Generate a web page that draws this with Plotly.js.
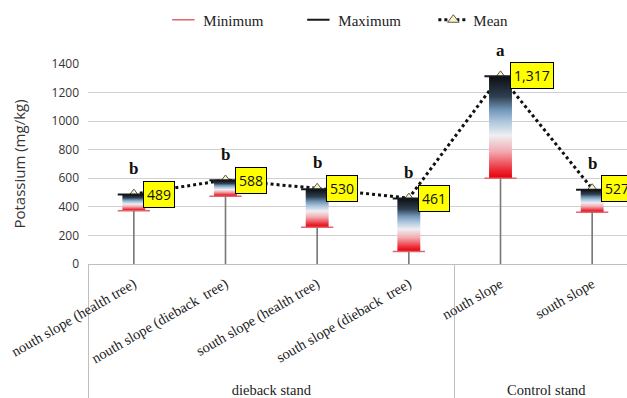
<!DOCTYPE html>
<html>
<head>
<meta charset="utf-8">
<script src="https://cdn.plot.ly/plotly-3.0.1.min.js"></script>
<style>
  html, body { margin: 0; padding: 0; overflow: hidden; background: #fff; }
  #chart { width: 640px; height: 398px; }
</style>
</head>
<body>
<div id="chart"></div>
<script>
// Potassium (mg/kg) by stand and slope position
const stands = ['dieback stand', 'dieback stand', 'dieback stand', 'dieback stand', 'Control stand', 'Control stand'];
const sites = ['nouth slope (health tree)', 'nouth slope (dieback  tree)', 'south slope (health tree)',
               'south slope (dieback  tree)', 'nouth slope', 'south slope'];
const minimum = [372, 475, 258, 88, 601, 362];
const maximum = [486, 586, 524, 458, 1315, 520];
const mean = [489, 588, 530, 461, 1317, 527];
const letters = ['b', 'b', 'b', 'b', 'a', 'b'];

const idx = sites.map((_, i) => i);
const halfW = 0.125;

// red -> white -> steel blue -> near black, bottom to top of each range box
const boxScale = [
  [0, '#e6000a'], [0.08, '#ec2a34'], [0.26, '#f2aab0'], [0.42, '#efeff1'],
  [0.56, '#aac4db'], [0.67, '#7196b7'], [0.8, '#2f3f50'], [1, '#0b0e13']
];

const traces = [];

// mean line sits underneath the boxes
traces.push({
  type: 'scatter', x: idx, y: mean, name: 'Mean', mode: 'lines+markers', legendrank: 3,
  line: { color: '#111', width: 3, dash: 'dot' },
  marker: { symbol: 'triangle-up', size: 10, color: '#fbf3c0', line: { color: '#555', width: 1 } },
  hoverinfo: 'y'
});

// one gradient box per site, from minimum up to maximum
idx.forEach(i => {
  traces.push({
    type: 'scatter', mode: 'lines', fill: 'toself', showlegend: false, hoverinfo: 'skip',
    x: [i - halfW, i + halfW, i + halfW, i - halfW, i - halfW],
    y: [minimum[i], minimum[i], maximum[i], maximum[i], minimum[i]],
    line: { width: 0 },
    fillgradient: { type: 'vertical', colorscale: boxScale }
  });
});

traces.push({
  type: 'scatter', x: idx, y: minimum, name: 'Minimum', mode: 'markers', legendrank: 1,
  marker: { symbol: 'line-ew', size: 23, line: { color: '#e2646c', width: 1.5 } }
});
traces.push({
  type: 'scatter', x: idx, y: maximum, name: 'Maximum', mode: 'markers', legendrank: 2,
  marker: { symbol: 'line-ew', size: 23, line: { color: '#15191f', width: 2 } }
});

// thin stems from the axis up to each minimum, on the grouped category axis
traces.push({
  type: 'bar', x: [stands, sites], y: minimum, xaxis: 'x2', width: 0.018,
  marker: { color: '#7a7a7a' }, showlegend: false, hoverinfo: 'skip'
});

const annotations = [];
idx.forEach(i => {
  annotations.push({
    x: i, y: mean[i], xref: 'x', yref: 'y', xanchor: 'left', yanchor: 'middle', xshift: 9,
    text: mean[i].toLocaleString('en-US'), showarrow: false,
    bgcolor: '#ffff00', bordercolor: '#000', borderwidth: 1, borderpad: 3,
    font: { family: 'Open Sans', size: 14, color: '#111' }
  });
  annotations.push({
    x: i, y: mean[i], xref: 'x', yref: 'y', xanchor: 'center', yanchor: 'bottom', yshift: 14,
    text: '<b>' + letters[i] + '</b>', showarrow: false,
    font: { family: 'Liberation Serif', size: 17, color: '#111' }
  });
});

const layout = {
  width: 640, height: 398,
  margin: { l: 88, r: 2, t: 64, b: 134 },
  paper_bgcolor: '#fff', plot_bgcolor: '#fff',
  showlegend: true,
  legend: {
    orientation: 'h', x: 0.137, xanchor: 'left', y: 1.22, yanchor: 'middle',
    entrywidth: 90, entrywidthmode: 'pixels',
    font: { family: 'Liberation Serif', size: 15, color: '#222' }
  },
  xaxis: {
    range: [-0.5, 5.5], showgrid: false, zeroline: false, showline: false,
    showticklabels: false, ticks: '', fixedrange: true
  },
  xaxis2: {
    type: 'multicategory', overlaying: 'x', side: 'bottom', range: [-0.5, 5.5],
    showline: true, linecolor: '#bfbfbf', linewidth: 1,
    showdividers: true, dividercolor: '#bfbfbf', dividerwidth: 1,
    tickangle: -30, ticks: '', showgrid: false, ticklabelstandoff: 5,
    tickfont: { family: 'Liberation Serif', size: 14.5, color: '#222' }
  },
  yaxis: {
    range: [0, 1400], dtick: 200, showgrid: true, gridcolor: '#d0d0d0', gridwidth: 1,
    zeroline: false, showline: false, ticks: '', ticklabelstandoff: 8,
    tickfont: { family: 'Open Sans', size: 12, color: '#333' },
    title: { text: 'Potassium (mg/kg)', font: { family: 'Open Sans', size: 15, color: '#333' }, standoff: 22 }
  },
  annotations: annotations
};

Plotly.newPlot('chart', traces, layout, { displayModeBar: false, staticPlot: true });
</script>
</body>
</html>
